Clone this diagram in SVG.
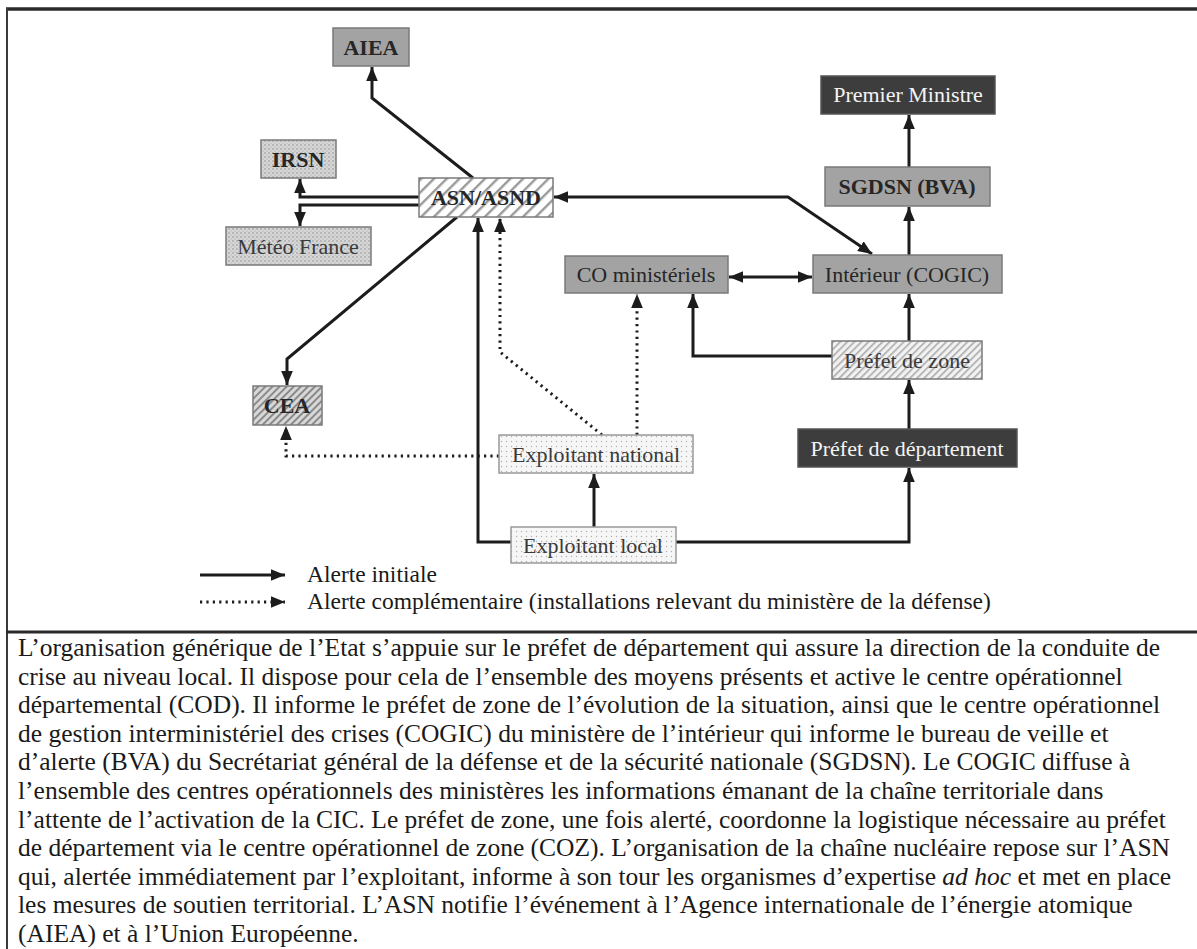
<svg xmlns="http://www.w3.org/2000/svg" width="1197" height="949" viewBox="0 0 1197 949">
<defs>
<style>
.lbl{font-family:"Liberation Serif","Times New Roman",serif;font-size:22px;text-anchor:middle;fill:#262626}
.b{font-weight:bold}
.w{fill:#f4f4f4}
.box{stroke:#7a7a7a;stroke-width:1.5}
.gray{fill:#a3a3a3}
.dark{fill:#3d3d3d;stroke:#555}
.c{fill:none;stroke:#1c1c1c;stroke-width:3;stroke-linejoin:miter}
.d{fill:none;stroke:#1c1c1c;stroke-width:3;stroke-dasharray:2.2,4.2}
.para{font-family:"Liberation Serif","Times New Roman",serif;font-size:25.5px;fill:#1a1a1a}
.leg{font-family:"Liberation Serif","Times New Roman",serif;font-size:23.5px;fill:#1a1a1a}
</style>
<marker id="ah" markerUnits="userSpaceOnUse" markerWidth="14" markerHeight="12" refX="12" refY="5" orient="auto-start-reverse" viewBox="0 0 12 10">
<path d="M0,0 L12,5 L0,10 Z" fill="#1c1c1c"/>
</marker>
<pattern id="dotsG" width="4" height="4" patternUnits="userSpaceOnUse">
<rect width="4" height="4" fill="#d6d6d6"/>
<circle cx="1" cy="1" r="0.8" fill="#8f8f8f"/>
<circle cx="3" cy="3" r="0.6" fill="#a8a8a8"/>
</pattern>
<pattern id="dotsL" width="5" height="5" patternUnits="userSpaceOnUse">
<rect width="5" height="5" fill="#f6f6f6"/>
<circle cx="1.5" cy="1.5" r="0.7" fill="#b0b0b0"/>
</pattern>
<pattern id="hatchA" width="9" height="9" patternUnits="userSpaceOnUse" patternTransform="rotate(45)">
<rect width="9" height="9" fill="#ffffff"/>
<rect width="2.4" height="9" fill="#9a9a9a"/>
</pattern>
<pattern id="hatchC" width="5" height="5" patternUnits="userSpaceOnUse" patternTransform="rotate(45)">
<rect width="5" height="5" fill="#d8d8d8"/>
<rect width="2" height="5" fill="#8a8a8a"/>
</pattern>
<pattern id="hatchZ" width="5" height="5" patternUnits="userSpaceOnUse" patternTransform="rotate(45)">
<rect width="5" height="5" fill="#f2f2f2"/>
<rect width="1.6" height="5" fill="#ababab"/>
</pattern>
</defs>
<rect width="1197" height="949" fill="#ffffff"/>
<g id="frame">
<line x1="6" y1="9" x2="1197" y2="9" stroke="#2a2a2a" stroke-width="3.5"/>
<line x1="7" y1="8" x2="7" y2="949" stroke="#3a3a3a" stroke-width="2"/>
<line x1="6" y1="632" x2="1197" y2="632" stroke="#2a2a2a" stroke-width="3"/>
</g>
<g id="connectors">
<path class="c" d="M473,178 L372,98 L372,67" marker-end="url(#ah)"/>
<path class="c" d="M419,197 L300,197 L300,179" marker-end="url(#ah)"/>
<path class="c" d="M419,205 L300,205 L300,226" marker-end="url(#ah)"/>
<path class="c" d="M554,197 L788,197 L872,254" marker-start="url(#ah)" marker-end="url(#ah)"/>
<path class="c" d="M457,217 L287,359 L287,385" marker-end="url(#ah)"/>
<path class="c" d="M511,542 L478,542 L478,218" marker-end="url(#ah)"/>
<path class="c" d="M594,527 L594,474" marker-end="url(#ah)"/>
<path class="c" d="M676,542 L909,542 L909,468" marker-end="url(#ah)"/>
<path class="c" d="M909,429 L909,380" marker-end="url(#ah)"/>
<path class="c" d="M909,341 L909,294" marker-end="url(#ah)"/>
<path class="c" d="M832,356 L693,356 L693,294" marker-end="url(#ah)"/>
<path class="c" d="M729,277 L812,277" marker-start="url(#ah)" marker-end="url(#ah)"/>
<path class="c" d="M909,255 L909,207" marker-end="url(#ah)"/>
<path class="c" d="M909,167 L909,115" marker-end="url(#ah)"/>
<path class="d" d="M602,435 L500,352 L500,218" marker-end="url(#ah)"/>
<path class="d" d="M637,435 L637,294" marker-end="url(#ah)"/>
<path class="d" d="M499,456 L286,456 L286,426" marker-end="url(#ah)"/>
</g>
<g id="n-aiea"><rect class="box gray" x="333" y="28" width="76" height="38"/><text class="lbl b" x="371" y="55">AIEA</text></g>
<g id="n-pm"><rect class="box dark" x="821" y="76" width="174" height="38"/><text class="lbl w" x="908" y="102">Premier Ministre</text></g>
<g id="n-irsn"><rect class="box" fill="url(#dotsG)" x="261" y="140" width="75" height="38"/><text class="lbl b" x="298" y="167">IRSN</text></g>
<g id="n-asn"><rect class="box" fill="url(#hatchA)" x="419" y="178" width="134" height="39"/><text class="lbl b" x="486" y="205">ASN/ASND</text></g>
<g id="n-sgdsn"><rect class="box gray" x="825" y="167" width="165" height="39"/><text class="lbl b" x="907" y="194">SGDSN (BVA)</text></g>
<g id="n-meteo"><rect class="box" fill="url(#dotsG)" x="226" y="227" width="145" height="38"/><text class="lbl" x="298" y="254" style="fill:#3a3a3a">Météo France</text></g>
<g id="n-co"><rect class="box gray" x="565" y="256" width="163" height="37"/><text class="lbl" x="646" y="282">CO ministériels</text></g>
<g id="n-interieur"><rect class="box gray" x="813" y="255" width="189" height="38"/><text class="lbl" x="907" y="282">Intérieur (COGIC)</text></g>
<g id="n-zone"><rect class="box" fill="url(#hatchZ)" x="832" y="341" width="150" height="38"/><text class="lbl" x="907" y="368" style="fill:#3a3a3a">Préfet de zone</text></g>
<g id="n-cea"><rect class="box" fill="url(#hatchC)" x="253" y="386" width="69" height="39"/><text class="lbl b" x="287" y="413">CEA</text></g>
<g id="n-dept"><rect class="box dark" x="798" y="429" width="219" height="38"/><text class="lbl w" x="907" y="456">Préfet de département</text></g>
<g id="n-expnat"><rect class="box" fill="url(#dotsL)" x="499" y="435" width="194" height="38" style="stroke:#999"/><text class="lbl" x="596" y="462" style="fill:#3a3a3a">Exploitant national</text></g>
<g id="n-exploc"><rect class="box" fill="url(#dotsL)" x="511" y="527" width="165" height="36" style="stroke:#999"/><text class="lbl" x="593" y="553" style="fill:#3a3a3a">Exploitant local</text></g>
<g id="legend">
<path class="c" d="M200,575 L285,575" marker-end="url(#ah)"/>
<path class="d" d="M200,602 L285,602" marker-end="url(#ah)"/>
<text class="leg" x="307" y="582">Alerte initiale</text>
<text class="leg" x="307" y="609">Alerte complémentaire (installations relevant du ministère de la défense)</text>
</g>
<g id="paragraph" class="para">
<text x="18" y="656">L’organisation générique de l’Etat s’appuie sur le préfet de département qui assure la direction de la conduite de</text>
<text x="18" y="684.6">crise au niveau local. Il dispose pour cela de l’ensemble des moyens présents et active le centre opérationnel</text>
<text x="18" y="713.2">départemental (COD). Il informe le préfet de zone de l’évolution de la situation, ainsi que le centre opérationnel</text>
<text x="18" y="741.8">de gestion interministériel des crises (COGIC) du ministère de l’intérieur qui informe le bureau de veille et</text>
<text x="18" y="770.4">d’alerte (BVA) du Secrétariat général de la défense et de la sécurité nationale (SGDSN). Le COGIC diffuse à</text>
<text x="18" y="799">l’ensemble des centres opérationnels des ministères les informations émanant de la chaîne territoriale dans</text>
<text x="18" y="827.6">l’attente de l’activation de la CIC. Le préfet de zone, une fois alerté, coordonne la logistique nécessaire au préfet</text>
<text x="18" y="856.2">de département via le centre opérationnel de zone (COZ). L’organisation de la chaîne nucléaire repose sur l’ASN</text>
<text x="18" y="884.8">qui, alertée immédiatement par l’exploitant, informe à son tour les organismes d’expertise <tspan font-style="italic">ad hoc</tspan> et met en place</text>
<text x="18" y="913.4">les mesures de soutien territorial. L’ASN notifie l’événement à l’Agence internationale de l’énergie atomique</text>
<text x="18" y="941.5">(AIEA) et à l’Union Européenne.</text>
</g>
</svg>
